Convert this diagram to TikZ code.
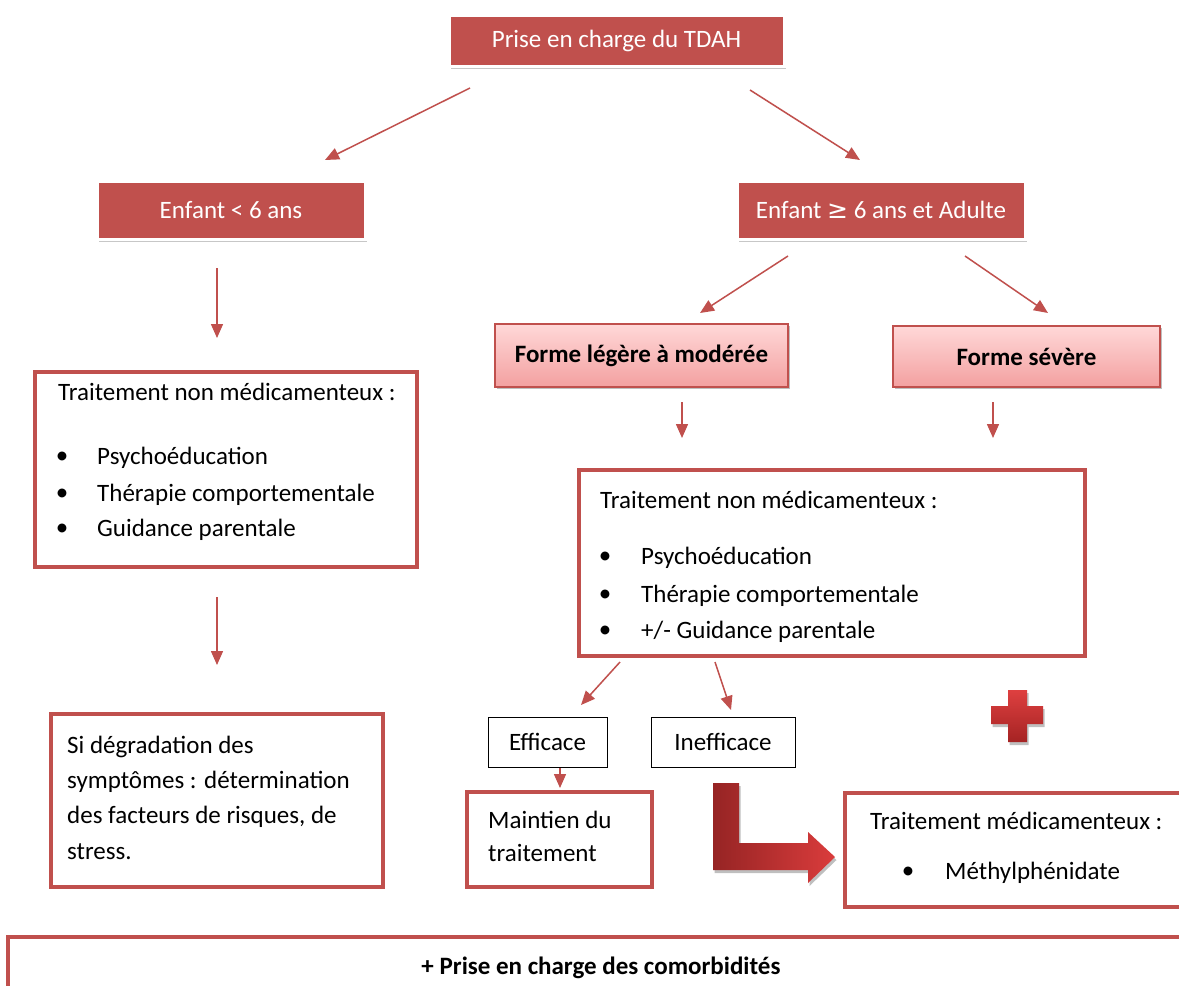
\documentclass[tikz,border=0pt]{standalone}
\usepackage{fontspec}
\setmainfont{Carlito}
\newfontfamily\symfont{DejaVu Sans}
\usetikzlibrary{shadows,arrows.meta,calc}
\definecolor{hred}{RGB}{192,80,77}
\definecolor{bred}{RGB}{192,80,77}
\definecolor{pinkT}{RGB}{255,216,216}
\definecolor{pinkB}{RGB}{243,160,160}
\definecolor{darkR}{RGB}{150,36,36}
\definecolor{brightR}{RGB}{218,60,60}
\definecolor{plusT}{RGB}{222,64,64}
\definecolor{plusB}{RGB}{165,35,35}
\newcommand\myfs{\fontsize{25}{30}\selectfont}
\tikzset{
  hdr/.style={rectangle, fill=hred, draw=white, line width=3pt, text=white, font=\myfs, inner sep=0pt,
    drop shadow={shadow xshift=1.5pt, shadow yshift=-3pt, fill=black, opacity=0.22}},
  frm/.style={rectangle, top color=pinkT, bottom color=pinkB, draw=bred, line width=1.3pt, font=\myfs\bfseries, inner sep=0pt,
    drop shadow={shadow xshift=1.5pt, shadow yshift=-2pt, fill=black, opacity=0.25}},
  tbox/.style={rectangle, draw=bred, line width=4pt, fill=white, inner sep=0pt,
    drop shadow={shadow xshift=1pt, shadow yshift=-1.5pt, fill=black, opacity=0.2}},
  sbox/.style={rectangle, draw=black, line width=1pt, fill=white, font=\myfs, inner sep=0pt},
  txt/.style={anchor=west, font=\myfs, inner sep=0pt},
  bul/.style={font=\myfs, inner sep=0pt},
  arr/.style={draw=bred, line width=1.5pt, -{Triangle[length=14pt,width=12pt]}},
}
\begin{document}
\begin{tikzpicture}[x=1pt,y=-1pt]
\useasboundingbox (0,0) rectangle (1179,986);
\fill[white] (0,0) rectangle (1179,986);

% header boxes
\node[hdr, minimum width=335pt, minimum height=51pt] (top) at (616.5,40.5) {Prise en charge du TDAH};
\node[hdr, minimum width=268pt, minimum height=58pt] (e6) at (231,210) {Enfant < 6 ans};
\node[hdr, minimum width=288pt, minimum height=58pt] (ea) at (881,210) {Enfant {\symfont ≥} 6 ans et Adulte};

% coordinates for connectors
\coordinate (t1) at (470,88);  \coordinate (t2) at (325,160);
\coordinate (t3) at (750,90);  \coordinate (t4) at (860,160);
\coordinate (l1) at (217,268); \coordinate (l2) at (217,338);
\coordinate (l3) at (217,597); \coordinate (l4) at (217,665);
\coordinate (r1) at (788,256); \coordinate (r2) at (700,313);
\coordinate (r3) at (965,256); \coordinate (r4) at (1048,313);
\coordinate (m1) at (682,402); \coordinate (m2) at (682,438);
\coordinate (m3) at (993,402); \coordinate (m4) at (993,438);
\coordinate (d1) at (620,662); \coordinate (d2) at (581,705);
\coordinate (d3) at (715,662); \coordinate (d4) at (731,710);
\coordinate (f1) at (560,767); \coordinate (f2) at (560,788);

\draw[arr] (t1) -- (t2);
\draw[arr] (t3) -- (t4);
\draw[arr] (l1) -- (l2);
\draw[arr] (l3) -- (l4);
\draw[arr] (r1) -- (r2);
\draw[arr] (r3) -- (r4);
\draw[arr] (m1) -- (m2);
\draw[arr] (m3) -- (m4);
\draw[arr] (d1) -- (d2);
\draw[arr] (d3) -- (d4);
\draw[arr] (f1) -- (f2);

% left column
\node[tbox, minimum width=382pt, minimum height=195pt] (lbox) at (226,469.5) {};
\node[txt] (lh) at (58,392) {Traitement non médicamenteux :};
\node[bul] (lb1) at (62,458) {\textbullet};
\node[bul] (lb2) at (62,495) {\textbullet};
\node[bul] (lb3) at (62,530) {\textbullet};
\node[txt] (li1) at (97,458) {Psychoéducation};
\node[txt] (li2) at (97,495) {Thérapie comportementale};
\node[txt] (li3) at (97,530) {Guidance parentale};

\node[tbox, minimum width=332pt, minimum height=173pt] (sbx) at (217,800.5) {};
\node[txt] (s1) at (67,747) {Si dégradation des};
\node[txt] (s2) at (67,782) {symptômes : détermination};
\node[txt] (s3) at (67,817) {des facteurs de risques, de};
\node[txt] (s4) at (67,852) {stress.};

% forms
\node[frm, minimum width=293pt, minimum height=63pt] (fl) at (641.5,355.5) {Forme légère à modérée};
\node[frm, minimum width=267pt, minimum height=61pt] (fs) at (1026.5,356.5) {Forme sévère};

% middle treatment box
\node[tbox, minimum width=506pt, minimum height=186pt] (mbox) at (832,563) {};
\node[txt] (mh) at (600,500) {Traitement non médicamenteux :};
\node[bul] (mb1) at (605,558) {\textbullet};
\node[bul] (mb2) at (605,596) {\textbullet};
\node[bul] (mb3) at (605,632) {\textbullet};
\node[txt] (mi1) at (641,558) {Psychoéducation};
\node[txt] (mi2) at (641,596) {Thérapie comportementale};
\node[txt] (mi3) at (641,632) {+/- Guidance parentale};

% efficace / inefficace
\node[sbox, minimum width=119pt, minimum height=50pt] (eff) at (547.5,742) {Efficace};
\node[sbox, minimum width=144pt, minimum height=50pt] (ineff) at (723,742) {Inefficace};

\node[tbox, minimum width=185pt, minimum height=95pt] (mt) at (559.5,839.5) {};
\node[txt] (mt1) at (488,820) {Maintien du};
\node[txt] (mt2) at (488,853) {traitement};

% big L arrow
\path[left color=darkR, right color=brightR,
  drop shadow={shadow xshift=1.5pt, shadow yshift=-3pt, fill=black, opacity=0.25}]
  (713,783) -- (739,783) -- (739,843) -- (808,843) -- (808,832) -- (835,857)
  -- (808,883) -- (808,870) -- (713,870) -- cycle;

% plus sign
\path[top color=plusT, bottom color=plusB,
  drop shadow={shadow xshift=1.5pt, shadow yshift=-3pt, fill=black, opacity=0.25}]
  (1008,690) -- (1027,690) -- (1027,706) -- (1043,706) -- (1043,724) -- (1027,724)
  -- (1027,742) -- (1008,742) -- (1008,724) -- (991,724) -- (991,706) -- (1008,706) -- cycle;

% drug treatment box
\node[tbox, minimum width=355pt, minimum height=114pt] (med) at (1022.5,850) {};
\node[txt] (md) at (870,821) {Traitement médicamenteux :};
\node[bul] (mdb) at (908,873) {\textbullet};
\node[txt] (mdi) at (945,873) {Méthylphénidate};

% bottom box
\node[tbox, minimum width=1192pt, minimum height=73pt] (bot) at (604,973.5) {};
\node[font=\myfs\bfseries, inner sep=0pt] (bt) at (601,968) {+ Prise en charge des comorbidités};
\end{tikzpicture}
\end{document}
